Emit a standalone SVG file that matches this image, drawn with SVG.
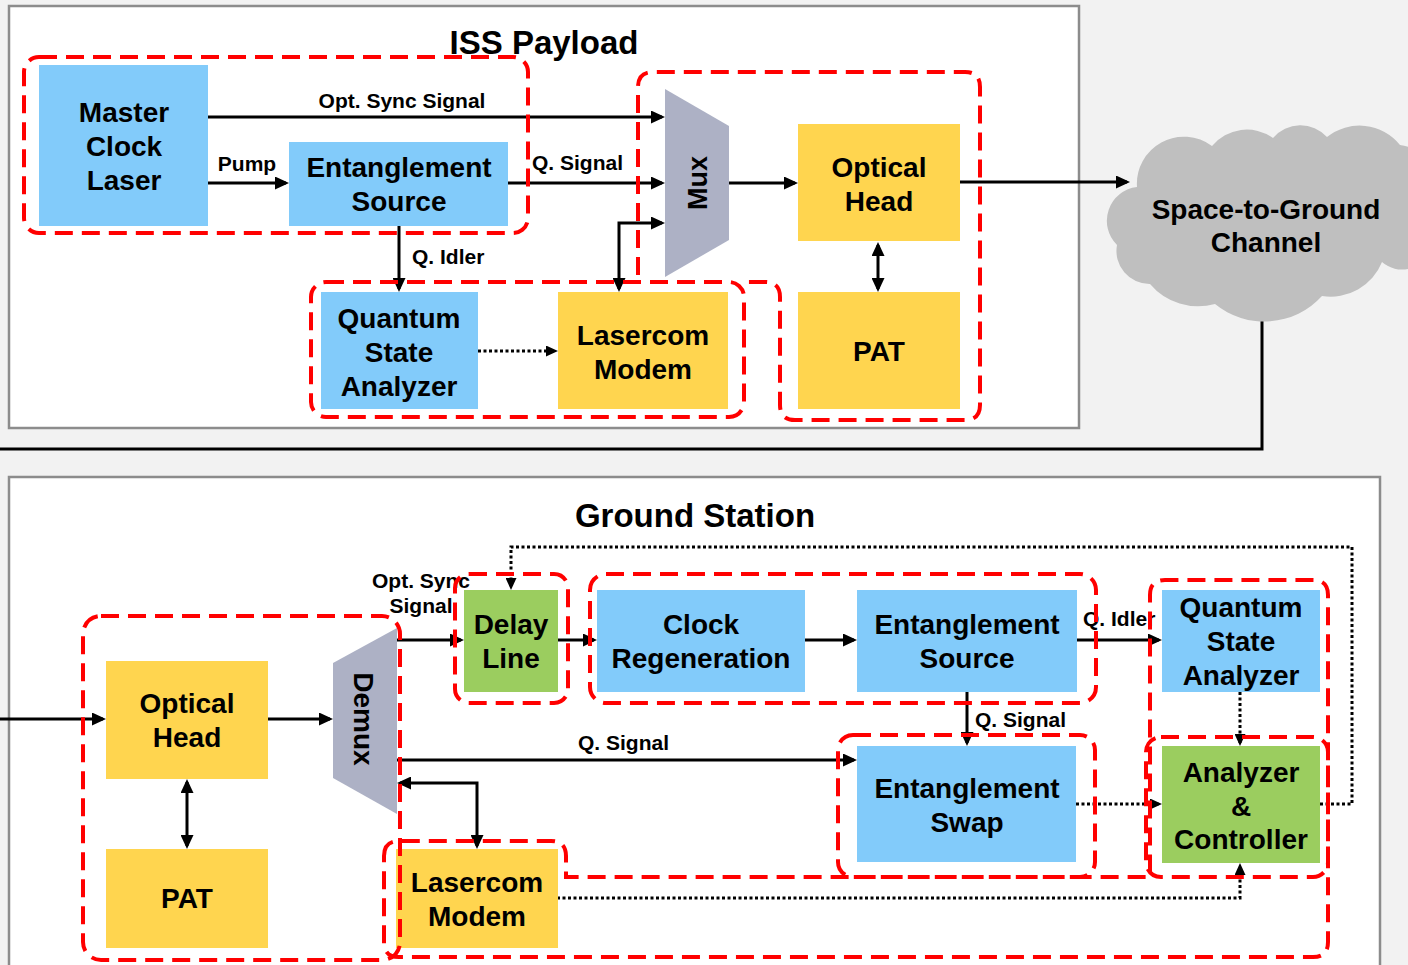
<svg xmlns="http://www.w3.org/2000/svg" width="1408" height="965" viewBox="0 0 1408 965">
<defs>
<style>
.panel{fill:#fff;stroke:#8c8c8c;stroke-width:2.5}
.blue{fill:#82cbfa}
.yellow{fill:#ffd54f}
.green{fill:#9bcd5f}
.mux{fill:#adb1c5}
.nt{font-family:"Liberation Sans",Arial,sans-serif;font-weight:bold;font-size:28px;fill:#000;text-anchor:middle}
.lt{font-family:"Liberation Sans",Arial,sans-serif;font-weight:bold;font-size:21px;fill:#000}
.tt{font-family:"Liberation Sans",Arial,sans-serif;font-weight:bold;font-size:33px;fill:#000;text-anchor:middle}
.ln{fill:none;stroke:#000;stroke-width:3}
.dot{fill:none;stroke:#000;stroke-width:3;stroke-dasharray:3 2.5}
.grp{fill:none;stroke:#ff0000;stroke-width:4;stroke-dasharray:18 9}
</style>
<marker id="ah" viewBox="0 0 14 13" refX="11" refY="6.5" markerWidth="14" markerHeight="13" markerUnits="userSpaceOnUse" orient="auto-start-reverse"><path d="M0,0 L14,6.5 L0,13 z" fill="#000"/></marker>
<marker id="ahs" viewBox="0 0 12 11" refX="9" refY="5.5" markerWidth="12" markerHeight="11" markerUnits="userSpaceOnUse" orient="auto-start-reverse"><path d="M0,0 L12,5.5 L0,11 z" fill="#000"/></marker>
</defs>
<rect x="0" y="0" width="1408" height="965" fill="#f2f2f2"/>
<rect class="panel" x="9" y="6" width="1070" height="422"/>
<rect class="panel" x="9" y="477" width="1371" height="500"/>
<text class="tt" x="544" y="54">ISS Payload</text>
<text class="tt" x="695" y="527">Ground Station</text>

<g id="connectors">
<path class="ln" d="M208 117 H662" marker-end="url(#ah)"/>
<path class="ln" d="M208 183 H286" marker-end="url(#ah)"/>
<path class="ln" d="M508 183 H662" marker-end="url(#ah)"/>
<path class="ln" d="M729 183 H795" marker-end="url(#ah)"/>
<path class="ln" d="M960 182 H1127" marker-end="url(#ah)"/>
<path class="ln" d="M878 245 V289" marker-start="url(#ah)" marker-end="url(#ah)"/>
<path class="ln" d="M399 226 V289" marker-end="url(#ah)"/>
<path class="dot" d="M478 351 H555" marker-end="url(#ahs)"/>
<path class="ln" d="M619 289 V223 H662" marker-start="url(#ah)" marker-end="url(#ah)"/>
<path class="ln" d="M1262 320 V449 H0"/>
<path class="ln" d="M0 719 H103" marker-end="url(#ah)"/>
<path class="ln" d="M268 719 H330" marker-end="url(#ah)"/>
<path class="ln" d="M187 782 V846" marker-start="url(#ah)" marker-end="url(#ah)"/>
<path class="ln" d="M397 640 H461" marker-end="url(#ah)"/>
<path class="ln" d="M557 640 H594" marker-end="url(#ah)"/>
<path class="ln" d="M805 640 H854" marker-end="url(#ah)"/>
<path class="ln" d="M1077 640 H1159" marker-end="url(#ah)"/>
<path class="ln" d="M967 692 V743" marker-end="url(#ah)"/>
<path class="ln" d="M397 760 H854" marker-end="url(#ah)"/>
<path class="ln" d="M400 783 H477 V846" marker-start="url(#ah)" marker-end="url(#ah)"/>
<path class="dot" d="M1240 692 V743" marker-end="url(#ahs)"/>
<path class="dot" d="M1076 804 H1159" marker-end="url(#ahs)"/>
<path class="dot" d="M1320 804 H1352 V547 H511 V587" marker-end="url(#ahs)"/>
<path class="dot" d="M557 898 H1240 V866" marker-end="url(#ahs)"/>
<text class="lt" x="402" y="108" text-anchor="middle">Opt. Sync Signal</text>
<text class="lt" x="247" y="171" text-anchor="middle">Pump</text>
<text class="lt" x="532" y="170">Q. Signal</text>
<text class="lt" x="412" y="264">Q. Idler</text>
<text class="lt" x="421" y="588" text-anchor="middle">Opt. Sync</text>
<text class="lt" x="421" y="613" text-anchor="middle">Signal</text>
<text class="lt" x="1083" y="626">Q. Idler</text>
<text class="lt" x="975" y="727">Q. Signal</text>
<text class="lt" x="578" y="750">Q. Signal</text>
</g>

<g id="iss-master-clock-laser"><rect class="blue" x="39" y="65" width="169" height="161"/><text class="nt"><tspan x="124" y="122">Master</tspan><tspan x="124" y="156">Clock</tspan><tspan x="124" y="190">Laser</tspan></text></g>
<g id="iss-entanglement-source"><rect class="blue" x="289" y="142" width="219" height="84"/><text class="nt"><tspan x="399" y="177">Entanglement</tspan><tspan x="399" y="211">Source</tspan></text></g>
<g id="iss-qsa"><rect class="blue" x="321" y="292" width="157" height="117"/><text class="nt"><tspan x="399" y="328">Quantum</tspan><tspan x="399" y="362">State</tspan><tspan x="399" y="396">Analyzer</tspan></text></g>
<g id="iss-lasercom"><rect class="yellow" x="558" y="292" width="170" height="117"/><text class="nt"><tspan x="643" y="345">Lasercom</tspan><tspan x="643" y="379">Modem</tspan></text></g>
<g id="iss-optical-head"><rect class="yellow" x="798" y="124" width="162" height="117"/><text class="nt"><tspan x="879" y="177">Optical</tspan><tspan x="879" y="211">Head</tspan></text></g>
<g id="iss-pat"><rect class="yellow" x="798" y="292" width="162" height="117"/><text class="nt" x="879" y="361">PAT</text></g>
<g id="iss-mux"><polygon class="mux" points="665,89 729,126 729,240 665,277"/><text class="nt" transform="translate(697.5,183) rotate(-90)" x="0" y="9.5" style="font-size:27px">Mux</text></g>
<g id="channel"><path fill="#bfbfbf" d="M1117 245 A34 34 0 0 1 1137 187 A47 47 0 0 1 1212 146 A45 45 0 0 1 1273 138 A36 36 0 0 1 1327 137 A52 52 0 0 1 1400 145 A60 60 0 0 1 1430 250 A30 30 0 0 1 1382 262 A55 55 0 0 1 1322 296 A78 78 0 0 1 1215 304 A63 63 0 0 1 1150 284 A33 33 0 0 1 1117 245 Z"/><text class="nt"><tspan x="1266" y="219">Space-to-Ground</tspan><tspan x="1266" y="252">Channel</tspan></text></g>

<g id="gs-optical-head"><rect class="yellow" x="106" y="661" width="162" height="118"/><text class="nt"><tspan x="187" y="713">Optical</tspan><tspan x="187" y="747">Head</tspan></text></g>
<g id="gs-pat"><rect class="yellow" x="106" y="849" width="162" height="99"/><text class="nt" x="187" y="908">PAT</text></g>
<g id="gs-demux"><polygon class="mux" points="333,663 397,628 397,814 333,778"/><text class="nt" transform="translate(364,719) rotate(90)" x="0" y="10">Demux</text></g>
<g id="gs-delay-line"><rect class="green" x="464" y="590" width="94" height="102"/><text class="nt"><tspan x="511" y="634">Delay</tspan><tspan x="511" y="668">Line</tspan></text></g>
<g id="gs-clock-regeneration"><rect class="blue" x="597" y="590" width="208" height="102"/><text class="nt"><tspan x="701" y="634">Clock</tspan><tspan x="701" y="668">Regeneration</tspan></text></g>
<g id="gs-entanglement-source"><rect class="blue" x="857" y="590" width="220" height="102"/><text class="nt"><tspan x="967" y="634">Entanglement</tspan><tspan x="967" y="668">Source</tspan></text></g>
<g id="gs-qsa"><rect class="blue" x="1162" y="590" width="158" height="102"/><text class="nt"><tspan x="1241" y="617">Quantum</tspan><tspan x="1241" y="651">State</tspan><tspan x="1241" y="685">Analyzer</tspan></text></g>
<g id="gs-analyzer-controller"><rect class="green" x="1162" y="746" width="158" height="117"/><text class="nt"><tspan x="1241" y="782">Analyzer</tspan><tspan x="1241" y="816">&amp;</tspan><tspan x="1241" y="849">Controller</tspan></text></g>
<g id="gs-entanglement-swap"><rect class="blue" x="857" y="746" width="219" height="116"/><text class="nt"><tspan x="967" y="798">Entanglement</tspan><tspan x="967" y="832">Swap</tspan></text></g>
<g id="gs-lasercom"><rect class="yellow" x="396" y="849" width="162" height="99"/><text class="nt"><tspan x="477" y="892">Lasercom</tspan><tspan x="477" y="926">Modem</tspan></text></g>

<g id="groups">
<rect class="grp" x="24" y="57" width="504" height="176" rx="15"/>
<path class="grp" d="M638 275 V87 Q638 72 653 72 H965 Q980 72 980 87 V405 Q980 420 965 420 H795 Q780 420 780 405 V297 Q780 282 765 282 H745"/>
<rect class="grp" x="311" y="282" width="433" height="135" rx="15"/>
<rect class="grp" x="83" y="616" width="317" height="344" rx="18"/>
<rect class="grp" x="455" y="574" width="113" height="129" rx="14"/>
<rect class="grp" x="590" y="574" width="506" height="129" rx="16"/>
<rect class="grp" x="838" y="735" width="257" height="142" rx="15"/>
<rect class="grp" x="1146" y="737" width="182" height="140" rx="15"/>
<path class="grp" d="M384 856 Q384 841 399 841 H551 Q566 841 566 856 V877 H1150 V595 Q1150 580 1165 580 H1313 Q1328 580 1328 595 V942 Q1328 957 1313 957 H399 Q384 957 384 942 Z"/>
</g>
</svg>
